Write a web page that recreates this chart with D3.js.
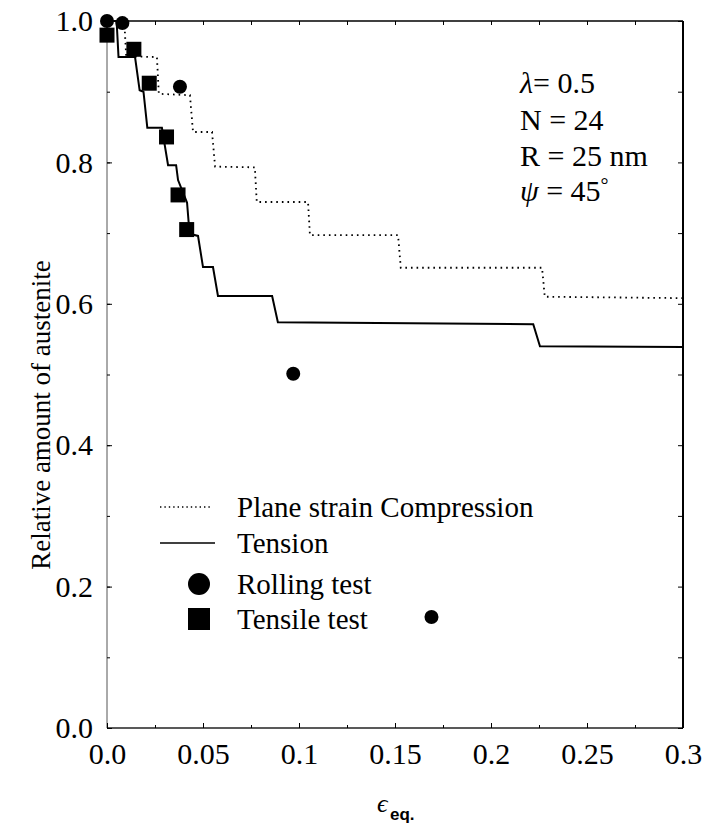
<!DOCTYPE html>
<html>
<head>
<meta charset="utf-8">
<script src="https://cdn.jsdelivr.net/npm/d3@7"></script>
<style>
  body { margin: 0; background: #fff; }
  svg text { font-family: "Liberation Serif", "Times New Roman", "DejaVu Serif", serif !important; fill: #000; }
  svg text.sub { font-family: "Liberation Sans", Arial, sans-serif !important; }
</style>
</head>
<body>
<div id="chart"></div>
<script>
// step curves (strain, relative amount)
var compStrain = [0, 0.009, 0.010, 0.026, 0.027, 0.0432, 0.0448, 0.0547, 0.0563, 0.077, 0.078, 0.1047, 0.1057, 0.1516, 0.153, 0.2266, 0.228, 0.3];
var compAmount = [1.0, 1.0, 0.95, 0.949, 0.897, 0.895, 0.843, 0.843, 0.794, 0.793, 0.744, 0.744, 0.697, 0.697, 0.651, 0.651, 0.610, 0.608];

var tensStrain = [0, 0.005, 0.006, 0.0146, 0.017, 0.019, 0.021, 0.0286, 0.0318, 0.036, 0.037, 0.0417, 0.043, 0.0474, 0.050, 0.0552, 0.0578, 0.086, 0.089, 0.222, 0.2255, 0.3];
var tensAmount = [1.0, 1.0, 0.949, 0.949, 0.902, 0.90, 0.849, 0.849, 0.796, 0.796, 0.775, 0.743, 0.699, 0.696, 0.652, 0.652, 0.611, 0.611, 0.574, 0.571, 0.540, 0.539];

// experiments
var rollStrain = [0.0, 0.008, 0.038, 0.097, 0.169];
var rollAmount = [1.0, 0.997, 0.907, 0.501, 0.157];
var tensileStrain = [0.0, 0.014, 0.022, 0.031, 0.037, 0.0415];
var tensileAmount = [0.98, 0.96, 0.912, 0.836, 0.754, 0.705];

var xTicks = [0, 0.05, 0.1, 0.15, 0.2, 0.25, 0.3];
var xTickLabels = ["0.0", "0.05", "0.1", "0.15", "0.2", "0.25", "0.3"];
var yTicks = [0, 0.2, 0.4, 0.6, 0.8, 1.0];
var yTickLabels = ["0.0", "0.2", "0.4", "0.6", "0.8", "1.0"];
var xMinor = d3.range(0, 13).map(i => i * 0.025);
var yMinor = d3.range(0, 11).map(i => i * 0.1);

var legendNames = ["Plane strain Compression", "Tension", "Rolling test", "Tensile test"];
var paramLines = ["N = 24", "R = 25 nm"];

var W = 702, H = 827;
var frame = {left: 107, right: 683, top: 21, bottom: 728};

var x = d3.scaleLinear().domain([0, 0.3]).range([frame.left, frame.right]);
var y = d3.scaleLinear().domain([0, 1]).range([frame.bottom, frame.top]);

var svg = d3.select("#chart").append("svg")
    .attr("width", W).attr("height", H)
    .attr("viewBox", [0, 0, W, H]);

// frame
svg.append("line").attr("x1", frame.left).attr("x2", frame.left)
    .attr("y1", frame.top).attr("y2", frame.bottom)
    .attr("stroke", "#555").attr("stroke-width", 1);
svg.append("line").attr("x1", frame.left).attr("x2", frame.right)
    .attr("y1", frame.bottom).attr("y2", frame.bottom)
    .attr("stroke", "#222").attr("stroke-width", 1.3);
svg.append("line").attr("x1", frame.right).attr("x2", frame.right)
    .attr("y1", frame.top).attr("y2", frame.bottom)
    .attr("stroke", "#000").attr("stroke-width", 2);
svg.append("line").attr("x1", frame.left).attr("x2", frame.right)
    .attr("y1", frame.top).attr("y2", frame.top)
    .attr("stroke", "#000").attr("stroke-width", 1.6);

// axes, ticks pointing inwards
var xAxis = g => g
    .attr("transform", `translate(0,${frame.bottom})`)
    .call(d3.axisBottom(x).tickValues(xTicks).tickFormat((d, i) => xTickLabels[i])
        .tickSizeInner(-5).tickSizeOuter(0).tickPadding(14))
    .call(g => g.select(".domain").remove());
var yAxis = g => g
    .attr("transform", `translate(${frame.left},0)`)
    .call(d3.axisLeft(y).tickValues(yTicks).tickFormat((d, i) => yTickLabels[i])
        .tickSizeInner(-5).tickSizeOuter(0).tickPadding(14))
    .call(g => g.select(".domain").remove());

svg.append("g").call(xAxis)
    .call(g => g.selectAll("text").attr("font-size", 30).attr("dy", "0.72em"));
svg.append("g").call(yAxis)
    .call(g => g.selectAll("text").attr("font-size", 30));

// minor ticks on all four sides
svg.append("g").attr("transform", `translate(0,${frame.bottom})`)
    .call(d3.axisBottom(x).tickValues(xMinor).tickFormat("").tickSizeInner(-3).tickSizeOuter(0))
    .call(g => g.select(".domain").remove());
svg.append("g").attr("transform", `translate(0,${frame.top})`)
    .call(d3.axisTop(x).tickValues(xMinor).tickFormat("").tickSizeInner(-4).tickSizeOuter(0))
    .call(g => g.select(".domain").remove());
svg.append("g").attr("transform", `translate(${frame.left},0)`)
    .call(d3.axisLeft(y).tickValues(yMinor).tickFormat("").tickSizeInner(-3).tickSizeOuter(0))
    .call(g => g.select(".domain").remove());
svg.append("g").attr("transform", `translate(${frame.right},0)`)
    .call(d3.axisRight(y).tickValues(yMinor).tickFormat("").tickSizeInner(-5).tickSizeOuter(0))
    .call(g => g.select(".domain").remove());

// curves
var line = d3.line().x(d => x(d[0])).y(d => y(d[1]));
svg.append("path")
    .datum(d3.zip(compStrain, compAmount))
    .attr("d", line)
    .attr("fill", "none").attr("stroke", "#000")
    .attr("stroke-width", 1.8).attr("stroke-dasharray", "1.6,4");
svg.append("path")
    .datum(d3.zip(tensStrain, tensAmount))
    .attr("d", line)
    .attr("fill", "none").attr("stroke", "#000").attr("stroke-width", 2);

// experimental points
svg.append("g").selectAll("rect")
    .data(d3.zip(tensileStrain, tensileAmount))
    .join("rect")
    .attr("x", d => x(d[0]) - 7.5).attr("y", d => y(d[1]) - 7.5)
    .attr("width", 15).attr("height", 15).attr("fill", "#000");
svg.append("g").selectAll("circle")
    .data(d3.zip(rollStrain, rollAmount))
    .join("circle")
    .attr("cx", d => x(d[0])).attr("cy", d => y(d[1]))
    .attr("r", 7).attr("fill", "#000");

// parameters
var ann = svg.append("g").attr("font-size", 30);
var lam = ann.append("text").attr("x", 520).attr("y", 93);
lam.append("tspan").attr("font-style", "italic").text("λ");
lam.append("tspan").text("= 0.5");
paramLines.forEach((t, i) => {
    ann.append("text").attr("x", 520).attr("y", 130 + i * 36).text(t);
});
var psi = ann.append("text").attr("x", 520).attr("y", 201);
psi.append("tspan").attr("font-style", "italic").text("ψ");
psi.append("tspan").text(" = 45");
psi.append("tspan").attr("dy", -9).attr("font-size", 20).text("°");

// legend
var lg = svg.append("g").attr("font-size", 29);
var rowY = [507, 543, 584, 619];
lg.append("line").attr("x1", 160).attr("x2", 210).attr("y1", rowY[0]).attr("y2", rowY[0])
    .attr("stroke", "#000").attr("stroke-width", 1.4).attr("stroke-dasharray", "1.4,3");
lg.append("line").attr("x1", 160).attr("x2", 215).attr("y1", rowY[1]).attr("y2", rowY[1])
    .attr("stroke", "#000").attr("stroke-width", 1.6);
lg.append("circle").attr("cx", 199).attr("cy", rowY[2]).attr("r", 11).attr("fill", "#000");
lg.append("rect").attr("x", 188).attr("y", rowY[3] - 11).attr("width", 22).attr("height", 22).attr("fill", "#000");
legendNames.forEach((t, i) => {
    lg.append("text").attr("x", 237).attr("y", rowY[i] + 10).text(t);
});

// axis titles
svg.append("text")
    .attr("transform", "translate(50,415) rotate(-90)")
    .attr("text-anchor", "middle").attr("font-size", 27)
    .text("Relative amount of austenite");
svg.append("text").attr("x", 377).attr("y", 812).attr("font-size", 26)
    .attr("font-style", "italic").text("ϵ");
svg.append("text").attr("class", "sub").attr("x", 390).attr("y", 820).attr("font-size", 17)
    .attr("font-weight", "bold").text("eq.");
</script>
</body>
</html>
